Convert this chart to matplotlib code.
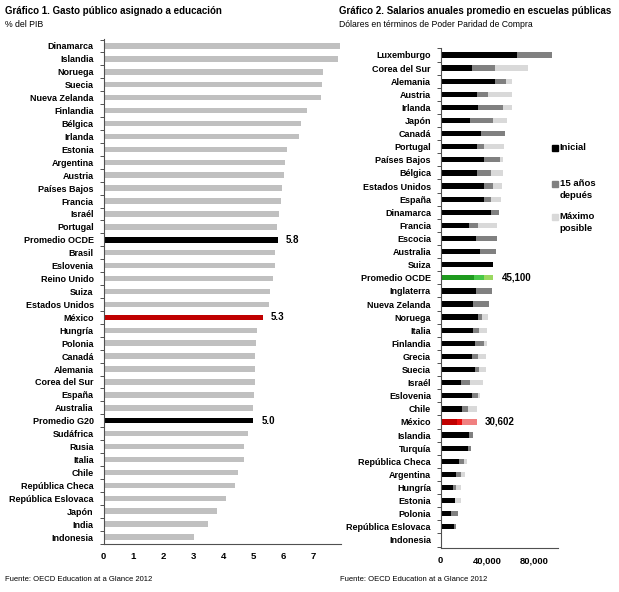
import numpy as np
import matplotlib.pyplot as plt

plt.rcParams['font.family'] = ['Liberation Sans Narrow', 'Liberation Sans', 'DejaVu Sans']

# Gráfico 1: gasto público en educación (% del PIB)
paises_gasto = ["Dinamarca", "Islandia", "Noruega", "Suecia", "Nueva Zelanda", "Finlandia",
                "Bélgica", "Irlanda", "Estonia", "Argentina", "Austria", "Países Bajos",
                "Francia", "Israél", "Portugal", "Promedio OCDE", "Brasil", "Eslovenia",
                "Reino Unido", "Suiza", "Estados Unidos", "México", "Hungría", "Polonia",
                "Canadá", "Alemania", "Corea del Sur", "España", "Australia", "Promedio G20",
                "Sudáfrica", "Rusia", "Italia", "Chile", "República Checa",
                "República Eslovaca", "Japón", "India", "Indonesia"]
gasto = [7.88, 7.8, 7.33, 7.29, 7.25, 6.77, 6.58, 6.5, 6.1, 6.04, 6.0, 5.95,
         5.9, 5.85, 5.78, 5.8, 5.73, 5.7, 5.64, 5.54, 5.53, 5.3, 5.12, 5.09,
         5.06, 5.05, 5.05, 5.02, 5.0, 5.0, 4.83, 4.69, 4.67, 4.47, 4.38,
         4.08, 3.77, 3.49, 3.0]
etiquetas_gasto = {"Promedio OCDE": "5.8", "México": "5.3", "Promedio G20": "5.0"}

# Gráfico 2: salarios anuales (USD PPC) - inicial, 15 años, máximo
paises_sal = ["Luxemburgo", "Corea del Sur", "Alemania", "Austria", "Irlanda", "Japón",
              "Canadá", "Portugal", "Países Bajos", "Bélgica", "Estados Unidos", "España",
              "Dinamarca", "Francia", "Escocia", "Australia", "Suiza", "Promedio OCDE",
              "Inglaterra", "Nueva Zelanda", "Noruega", "Italia", "Finlandia", "Grecia",
              "Suecia", "Israél", "Eslovenia", "Chile", "México", "Islandia", "Turquía",
              "República Checa", "Argentina", "Hungría", "Estonia", "Polonia",
              "República Eslovaca", "Indonesia"]
inicial = [65200, 26700, 46200, 30600, 32100, 25200, 34300, 30600, 36600, 30600, 36600, 37400,
           43400, 24400, 30100, 33800, 45100, 28700, 30100, 27200, 32100, 27200, 28900, 26700,
           28900, 17600, 26700, 17900, 14200, 24400, 23000, 15300, 13300, 10500, 11900, 9100,
           11300, 1100]
quince = [95000, 46200, 55900, 40600, 53300, 44800, 55000, 37400, 50500, 43100, 44800, 42800,
          50200, 32300, 47900, 47400, 45100, 37200, 44000, 41100, 35500, 32600, 37400, 32100,
          32900, 25200, 32100, 23300, 18200, 27800, 25800, 19900, 17000, 13300, 11900, 15000,
          12800, 1400]
maximo = [95000, 74300, 61000, 61000, 61000, 56500, 55000, 54200, 53600, 53300, 52200, 51600,
          50200, 48200, 47900, 47400, 45100, 45100, 44000, 41100, 40300, 39700, 39400, 38900,
          38900, 36000, 33500, 30900, 30602, 27800, 25800, 22100, 20700, 17300, 17300, 15000,
          12800, 1400]
etiquetas_sal = {"Promedio OCDE": "45,100", "México": "30,602"}

fig = plt.figure(figsize=(6.19, 5.92), dpi=100)
W, H = 619, 592


def px_axes(x0, x1, y0, y1):
    return fig.add_axes([x0 / W, 1 - y1 / H, (x1 - x0) / W, (y1 - y0) / H])


def style_axis(ax, n):
    ax.set_yticks(range(n))
    ax.set_yticks(np.arange(-0.5, n, 1), minor=True)
    ax.tick_params(axis='y', which='major', length=0, pad=7, labelsize=6.5)
    ax.tick_params(axis='y', which='minor', length=3, color='#505050', width=0.7)
    ax.tick_params(axis='x', length=0, pad=6, labelsize=6.8)
    for s in ['top', 'right']:
        ax.spines[s].set_visible(False)
    for s in ['left', 'bottom']:
        ax.spines[s].set_color('#505050')
        ax.spines[s].set_linewidth(0.8)
    for lbl in ax.get_yticklabels() + ax.get_xticklabels():
        lbl.set_fontweight('bold')


# ---- Gráfico 1
ax1 = px_axes(103.5, 340.5, 39, 543.5)
y1 = np.arange(len(paises_gasto))
colores1 = []
for p in paises_gasto:
    if p.startswith("Promedio"):
        colores1.append('black')
    elif p == "México":
        colores1.append('#c00000')
    else:
        colores1.append('#c0c0c0')
ax1.barh(y1, gasto, height=0.42, color=colores1)
ax1.set_xlim(0, 7.9)
ax1.set_ylim(38.48, -0.54)
ax1.set_xticks(range(8))
ax1.set_yticklabels(paises_gasto)
style_axis(ax1, len(paises_gasto))
for i, p in enumerate(paises_gasto):
    if p in etiquetas_gasto:
        ax1.annotate(etiquetas_gasto[p], (gasto[i], i), xytext=(6, 0), textcoords='offset points',
                     va='center', ha='left', fontsize=7, fontweight='bold')

# ---- Gráfico 2
ax2 = px_axes(440.7, 557.7, 48, 547.7)
y2 = np.arange(len(paises_sal))
ini = np.array(inicial)
qui = np.array(quince)
mx = np.array(maximo)
c_ini, c_qui, c_max = [], [], []
for p in paises_sal:
    if p == "Promedio OCDE":
        c_ini.append('#1e9a1e'); c_qui.append('#48c848'); c_max.append('#9ad860')
    elif p == "México":
        c_ini.append('#c00000'); c_qui.append('#e81010'); c_max.append('#f08080')
    else:
        c_ini.append('black'); c_qui.append('#808080'); c_max.append('#d9d9d9')
h2 = 0.4
ax2.barh(y2, ini, height=h2, color=c_ini, label='Inicial')
ax2.barh(y2, qui - ini, left=ini, height=h2, color=c_qui, label='15 años\ndepués')
ax2.barh(y2, mx - qui, left=qui, height=h2, color=c_max, label='Máximo\nposible')
ax2.set_xlim(0, 100000)
ax2.set_ylim(37.59, -0.53)
ax2.set_xticks([0, 40000, 80000])
ax2.set_xticklabels(['0', '40,000', '80,000'])
ax2.set_yticklabels(paises_sal)
style_axis(ax2, len(paises_sal))
for i, p in enumerate(paises_sal):
    if p in etiquetas_sal:
        ax2.annotate(etiquetas_sal[p], (maximo[i], i), xytext=(6, 0), textcoords='offset points',
                     va='center', ha='left', fontsize=7, fontweight='bold')

# leyenda manual
for yy, txt, col in [(148, 'Inicial', 'black'), (184, '15 años\ndepués', '#808080'),
                     (217, 'Máximo\nposible', '#d9d9d9')]:
    fig.patches.append(plt.Rectangle((551.5 / W, 1 - (yy + 3) / H), 6 / W, 6 / H,
                                     transform=fig.transFigure, color=col))
    fig.text(559.5 / W, 1 - (yy - 5) / H, txt, fontsize=6.8, fontweight='bold', va='top',
             ha='left', linespacing=1.45, transform=fig.transFigure)

# títulos y fuentes
fig.text(5 / W, 1 - 6 / H, "Gráfico 1. Gasto público asignado a educación", fontsize=7.0,
         fontweight='bold', va='top')
fig.text(5 / W, 1 - 20 / H, "% del PIB", fontsize=6.3, va='top')
fig.text(339 / W, 1 - 6 / H, "Gráfico 2. Salarios anuales promedio en escuelas públicas",
         fontsize=7.0, fontweight='bold', va='top')
fig.text(339 / W, 1 - 20 / H, "Dólares en términos de Poder Paridad de Compra", fontsize=6.2,
         va='top')
fig.text(5 / W, 1 - 576 / H, "Fuente: OECD Education at a Glance 2012", fontsize=5.5, va='top')
fig.text(340 / W, 1 - 576 / H, "Fuente: OECD Education at a Glance 2012", fontsize=5.5, va='top')

fig.savefig("out.png", dpi=100)
